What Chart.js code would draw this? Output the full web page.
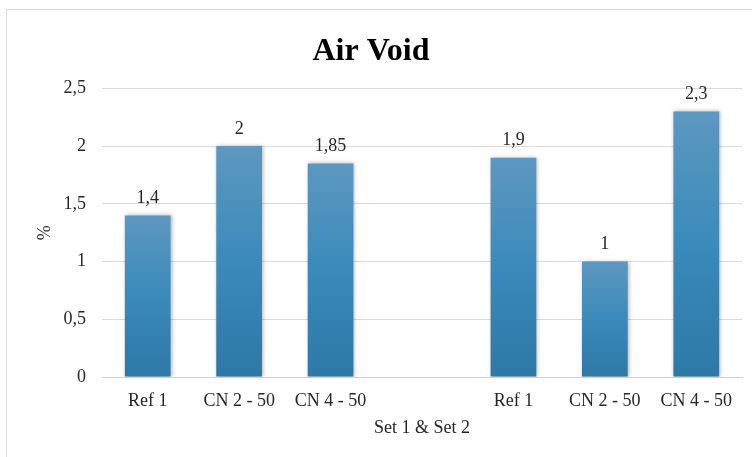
<!DOCTYPE html>
<html>
<head>
<meta charset="utf-8">
<script src="https://cdn.jsdelivr.net/npm/chart.js@4"></script>
<style>
  html, body { margin: 0; padding: 0; background: #fff; }
  #wrap { position: relative; width: 752px; height: 457px; overflow: hidden; }
  #frame { position: absolute; left: 6px; top: 9px; width: 780px; height: 480px; border: 1px solid #d9d9d9; }
  canvas { position: absolute; left: 0; top: 0; }
</style>
</head>
<body>
<div id="wrap">
  <div id="frame"></div>
  <canvas id="chart" width="752" height="457"></canvas>
</div>
<script>
const categories = ['Ref 1', 'CN 2 - 50', 'CN 4 - 50', '', 'Ref 1', 'CN 2 - 50', 'CN 4 - 50'];
const airVoid = [1.4, 2, 1.85, null, 1.9, 1, 2.3];
const yTicks = [0, 0.5, 1, 1.5, 2, 2.5];

const serif = '"Liberation Serif", "Times New Roman", serif';
const textColor = '#262626';
const toComma = (v) => String(v).replace('.', ',');

// per-bar vertical gradient, lighter at the top
function barFill(context) {
  const chart = context.chart;
  const v = context.parsed ? context.parsed.y : null;
  if (!chart.chartArea || v == null) return '#3a87b8';
  const y = chart.scales.y;
  const top = y.getPixelForValue(v);
  const bottom = y.getPixelForValue(0);
  const g = chart.ctx.createLinearGradient(0, top, 0, bottom);
  g.addColorStop(0, '#5d98c0');
  g.addColorStop(0.5, '#3a8abb');
  g.addColorStop(1, '#2d78a6');
  return g;
}

// soft shadow around the bars
const barShadow = {
  id: 'barShadow',
  beforeDatasetsDraw(chart) {
    const ctx = chart.ctx;
    ctx.save();
    ctx.shadowColor = 'rgba(0,0,0,0.3)';
    ctx.shadowBlur = 4;
    ctx.shadowOffsetX = 1;
    ctx.shadowOffsetY = 0;
  },
  afterDatasetsDraw(chart) {
    chart.ctx.restore();
  },
};

// value labels above each bar
const valueLabels = {
  id: 'valueLabels',
  afterDraw(chart) {
    const ctx = chart.ctx;
    const meta = chart.getDatasetMeta(0);
    ctx.save();
    ctx.font = '18px ' + serif;
    ctx.fillStyle = textColor;
    ctx.textAlign = 'center';
    ctx.textBaseline = 'bottom';
    meta.data.forEach((bar, i) => {
      const v = airVoid[i];
      if (v == null) return;
      ctx.fillText(toComma(v), bar.x, bar.y - 8);
    });
    ctx.restore();
  },
};

const ctx = document.getElementById('chart').getContext('2d');
new Chart(ctx, {
  type: 'bar',
  data: {
    labels: categories,
    datasets: [
      {
        data: airVoid,
        backgroundColor: barFill,
        borderWidth: 0,
        barPercentage: 0.5,
        categoryPercentage: 1,
      },
    ],
  },
  options: {
    responsive: false,
    animation: false,
    layout: { padding: { left: 0, right: 10, top: 0, bottom: 0 } },
    plugins: {
      legend: { display: false },
      tooltip: { enabled: false },
      title: {
        display: true,
        text: 'Air Void',
        color: '#000',
        font: { family: serif, size: 32, weight: 'bold' },
        padding: { top: 33, bottom: 17 },
      },
    },
    scales: {
      x: {
        grid: { display: false, drawTicks: false },
        border: { color: '#d0d0d0' },
        ticks: {
          color: textColor,
          font: { family: serif, size: 18 },
          padding: 13,
          maxRotation: 0,
          autoSkip: false,
        },
        title: {
          display: true,
          text: 'Set 1 & Set 2',
          color: textColor,
          font: { family: serif, size: 18 },
          padding: { top: 0, bottom: 18 },
        },
        afterFit(scale) {
          scale.height = 80;
        },
      },
      y: {
        min: 0,
        max: 2.5,
        afterBuildTicks(scale) {
          scale.ticks = yTicks.map((value) => ({ value }));
        },
        grid: {
          color: (c) => (c.tick && c.tick.value === 0 ? '#d0d0d0' : '#d9d9d9'),
          drawTicks: false,
        },
        border: { display: false },
        ticks: {
          color: textColor,
          font: { family: serif, size: 18 },
          padding: 16,
          callback: (v) => toComma(v),
        },
        title: {
          display: true,
          text: '%',
          color: textColor,
          font: { family: serif, size: 18 },
          padding: { top: 34, bottom: 0 },
        },
        afterFit(scale) {
          scale.width = 102;
        },
      },
    },
  },
  plugins: [barShadow, valueLabels],
});
</script>
</body>
</html>
